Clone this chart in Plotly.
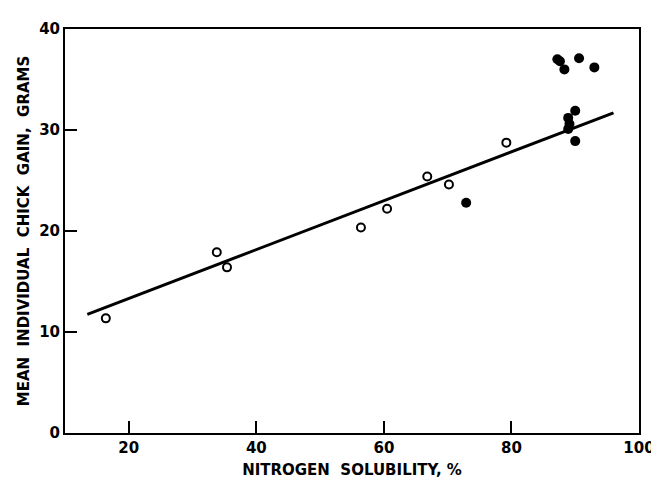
import plotly.graph_objects as go

# Open circles
open_x = [16.4, 33.8, 35.4, 56.4, 60.5, 66.8, 70.2, 79.2]
open_y = [11.35, 17.9, 16.4, 20.35, 22.2, 25.4, 24.6, 28.75]

# Filled circles
filled_x = [72.9, 87.2, 87.6, 88.3, 90.6, 93.0, 90.0, 88.9, 89.1, 88.9, 90.0]
filled_y = [22.8, 37.0, 36.8, 36.0, 37.1, 36.2, 31.9, 31.2, 30.6, 30.1, 28.9]

# Regression line endpoints
fit_x = [13.5, 96.0]
fit_y = [11.75, 31.7]

x_ticks = [20, 40, 60, 80, 100]
y_ticks = [0, 10, 20, 30, 40]

font_family = "DejaVu Sans, Liberation Sans, sans-serif"

fig = go.Figure()
fig.add_trace(go.Scatter(x=fit_x, y=fit_y, mode="lines",
                         line=dict(color="black", width=3), showlegend=False, hoverinfo="skip"))
fig.add_trace(go.Scatter(x=open_x, y=open_y, mode="markers",
                         marker=dict(symbol="circle-open", size=8, color="black", line=dict(width=2, color="black")),
                         showlegend=False))
fig.add_trace(go.Scatter(x=filled_x, y=filled_y, mode="markers",
                         marker=dict(symbol="circle", size=10, color="black"),
                         showlegend=False))

fig.update_layout(
    width=659, height=480,
    margin=dict(l=57, r=21, t=15, b=48),
    paper_bgcolor="white", plot_bgcolor="white",
    font=dict(family=font_family, color="black", size=14),
)
fig.update_xaxes(
    range=[10, 100], tickvals=x_ticks, ticktext=[str(v) for v in x_ticks],
    ticks="inside", ticklen=12, tickwidth=1.5, tickcolor="black",
    showline=True, linecolor="black", linewidth=2, mirror=True,
    showgrid=False, zeroline=False,
    tickfont=dict(size=15, family=font_family, weight="bold"),
    title=dict(text="NITROGEN  SOLUBILITY, %", font=dict(size=15, family=font_family, weight="bold"), standoff=8),
)
fig.update_yaxes(
    range=[0, 40], tickvals=y_ticks, ticktext=[str(v) for v in y_ticks],
    ticks="inside", ticklen=12, tickwidth=1.5, tickcolor="black",
    showline=True, linecolor="black", linewidth=2, mirror=True,
    showgrid=False, zeroline=False,
    tickfont=dict(size=15, family=font_family, weight="bold"),
    title=dict(text="MEAN  INDIVIDUAL  CHICK  GAIN,  GRAMS", font=dict(size=15, family=font_family, weight="bold"), standoff=6),
)

fig.write_html("out.html")
